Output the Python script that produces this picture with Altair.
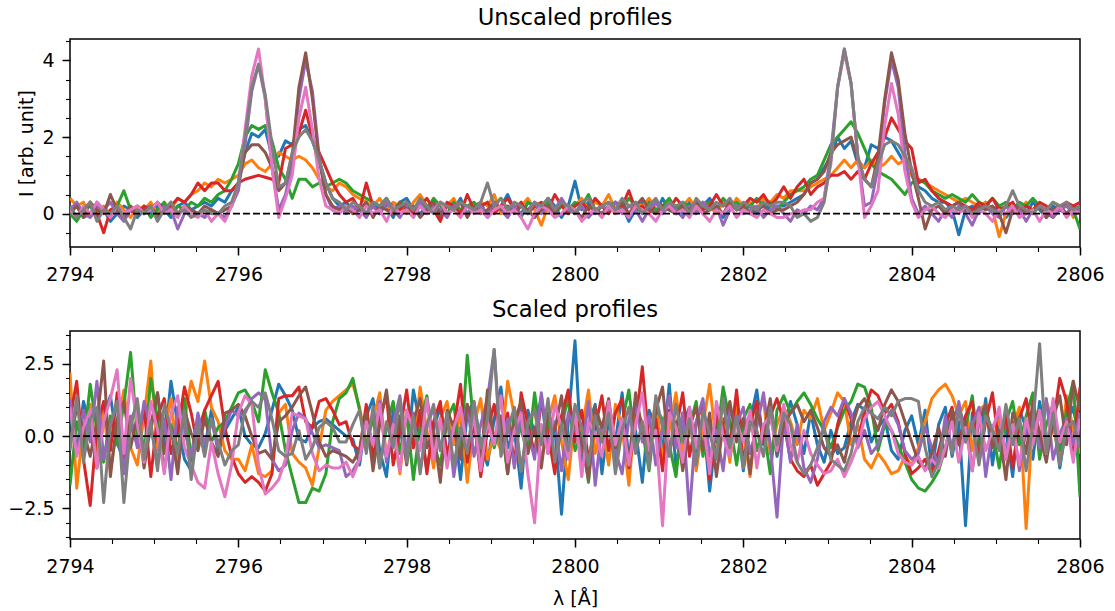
import altair as alt
import pandas as pd

# wavelength grid (Angstrom), 0.08 A step
LAM = [round(2794 + 0.08 * i, 2) for i in range(151)]

COLORS = ["#1f77b4", "#ff7f0e", "#2ca02c", "#d62728",
          "#9467bd", "#8c564b", "#e377c2", "#7f7f7f"]

# ---------------- unscaled profiles ----------------
u_blue = [0.1, 0.2, -0.1, 0.0, 0.3, 0.1, -0.2, 0.0, 0.2, 0.1,
          -0.1, 0.1, 0.0, 0.2, 0.1, -0.1, 0.2, 0.3, 0.1, 0.2,
          0.3, 0.2, 0.4, 0.3, 0.6, 0.8, 1.6, 2.1, 2.0, 2.2,
          1.5, 1.5, 1.9, 1.8, 2.2, 2.3, 1.9, 1.4, 0.8, 0.4,
          0.2, 0.3, 0.1, 0.2, 0.0, 0.3, 0.1, 0.2, -0.1, 0.3,
          0.4, 0.1, 0.0, 0.2, 0.3, -0.1, 0.2, 0.1, 0.4, 0.0,
          0.2, 0.3, -0.1, 0.1, 0.2, 0.5, 0.1, 0.0, 0.3, 0.2,
          0.1, 0.4, 0.2, -0.1, 0.2, 0.85, 0.1, 0.3, 0.0, 0.2,
          0.3, 0.1, 0.2, -0.2, 0.1, 0.3, 0.2, 0.0, 0.4, 0.1,
          0.2, 0.0, 0.3, 0.1, 0.2, 0.4, 0.1, -0.1, 0.2, 0.3,
          0.1, 0.2, 0.0, 0.3, 0.1, 0.2, 0.2, 0.3, 0.4, 0.5,
          0.8, 0.9, 1.2, 1.5, 2.0, 1.7, 1.9, 1.3, 1.2, 1.8,
          1.7, 2.0, 1.9, 1.6, 1.3, 1.0, 0.7, 0.6, 0.4, 0.3,
          0.3, 0.1, -0.55, 0.1, 0.2, 0.0, 0.3, 0.1, 0.2, -0.1,
          0.1, 0.2, 0.0, 0.3, 0.1, -0.1, 0.2, 0.1, 0.0, 0.2,
          0.1]
u_orange = [0.4, 0.2, 0.3, -0.1, 0.1, 0.2, 0.0, 0.3, 0.1, -0.1,
            0.2, 0.1, 0.3, 0.0, 0.2, 0.1, 0.4, 0.3, 0.5, 0.6,
            0.8, 0.7, 0.9, 0.8, 0.9, 1.0, 1.3, 1.4, 1.2, 1.1,
            1.3, 1.6, 1.5, 1.4, 1.5, 1.4, 1.2, 0.9, 0.7, 0.6,
            0.8, 0.7, 0.5, 0.4, 0.3, 0.2, 0.4, 0.1, 0.3, 0.2,
            0.0, 0.3, 0.5, 0.2, 0.1, 0.3, 0.2, 0.4, 0.0, 0.2,
            0.1, 0.3, 0.2, 0.5, 0.0, 0.1, 0.3, 0.2, 0.4, 0.1,
            -0.3, 0.2, 0.1, 0.3, 0.0, 0.2, 0.4, 0.1, 0.3, 0.2,
            0.5, 0.1, 0.2, 0.0, 0.3, 0.2, 0.4, 0.1, 0.2, 0.3,
            0.0, 0.2, 0.4, 0.1, 0.3, 0.2, 0.0, 0.3, 0.1, 0.4,
            0.2, 0.3, 0.1, 0.4, 0.3, 0.5, 0.4, 0.6, 0.6, 0.6,
            0.7, 0.8, 0.9, 1.0, 1.2, 1.4, 1.2, 1.4, 1.2, 1.4,
            1.2, 1.3, 1.5, 1.3, 1.4, 1.0, 0.9, 0.8, 0.7, 0.6,
            0.5, 0.4, 0.3, 0.4, 0.3, 0.2, 0.3, 0.1, -0.6, 0.0,
            0.2, 0.1, 0.3, 0.0, 0.2, 0.1, -0.1, 0.2, 0.3, -0.1,
            0.1]
u_green = [0.0, -0.2, 0.1, 0.2, -0.1, 0.1, 0.0, 0.2, 0.6, 0.1,
           0.0, 0.2, -0.1, 0.1, 0.3, 0.0, 0.2, 0.1, 0.3, 0.2,
           0.4, 0.3, 0.5, 0.6, 0.9, 1.3, 2.0, 2.3, 2.2, 2.3,
           1.9, 1.2, 0.9, 0.4, 0.9, 0.9, 0.7, 0.8, 0.7, 0.8,
           0.9, 0.8, 0.6, 0.5, 0.4, 0.3, 0.2, 0.4, 0.1, 0.3,
           0.2, 0.0, 0.3, 0.1, 0.4, 0.2, 0.0, 0.3, 0.1, 0.2,
           0.3, 0.1, 0.0, 0.2, 0.4, 0.1, 0.2, -0.1, 0.3, 0.2,
           0.1, 0.3, 0.0, 0.2, 0.1, 0.3, 0.2, 0.5, 0.1, 0.0,
           0.2, 0.3, 0.1, 0.4, 0.2, 0.0, 0.3, 0.1, 0.2, 0.4,
           0.1, 0.3, 0.2, 0.0, 0.2, 0.3, 0.1, 0.4, 0.2, 0.3,
           0.1, 0.2, 0.4, 0.2, 0.3, 0.1, 0.3, 0.5, 0.6, 0.7,
           0.9, 1.0, 1.4, 1.8, 2.0, 2.2, 2.4, 2.1, 1.7, 1.3,
           1.1, 1.0, 0.9, 0.7, 0.5, 0.8, 0.9, 0.8, 0.6, 0.5,
           0.4, 0.5, 0.4, 0.3, 0.5, 0.3, 0.2, 0.4, 0.2, 0.3,
           0.1, 0.3, 0.2, 0.4, 0.2, 0.1, 0.3, 0.2, 0.0, 0.1,
           -0.4]
u_red = [0.2, -0.1, 0.1, 0.3, 0.0, -0.5, 0.1, 0.2, -0.1, 0.1,
         0.0, 0.2, 0.1, 0.3, 0.1, 0.2, 0.4, 0.3, 0.5, 0.8,
         0.6, 0.8, 0.8, 0.6, 0.6, 0.8, 0.9, 0.95, 1.0, 0.95,
         0.9, 0.8, 1.7, 1.8, 2.1, 2.7, 2.0, 1.6, 1.2, 0.8,
         0.5, 0.3, 0.4, 0.1, 0.8, 0.2, 0.0, 0.3, 0.2, 0.1,
         0.3, 0.0, 0.2, 0.4, 0.1, -0.2, 0.3, 0.2, 0.0, 0.5,
         0.1, 0.2, 0.3, 0.0, 0.2, 0.4, 0.1, 0.3, 0.0, 0.2,
         0.3, 0.1, 0.5, 0.2, 0.0, 0.2, 0.3, 0.1, 0.4, 0.2,
         0.0, 0.3, 0.2, 0.6, 0.1, 0.2, 0.0, 0.3, 0.2, 0.1,
         0.4, 0.2, 0.0, 0.3, 0.1, 0.2, 0.5, 0.2, 0.3, 0.1,
         0.2, 0.4, 0.3, 0.5, 0.2, 0.4, 0.7, 0.4, 0.7, 0.9,
         0.5, 0.7, 0.8, 1.0, 1.0, 1.1, 0.9, 1.1, 0.9, 1.3,
         1.6, 2.0, 2.5, 2.2, 1.9, 1.7, 0.8, 0.9, 0.6, 0.4,
         0.3, 0.2, 0.3, 0.2, 0.1, 0.3, 0.2, 0.4, 0.1, 0.2,
         0.3, 0.0, 0.2, 0.1, 0.3, 0.2, 0.0, 0.1, 0.3, 0.2,
         0.3]
u_purple = [0.1, 0.3, 0.0, -0.1, 0.2, 0.1, 0.3, 0.0, -0.2, 0.1,
            0.2, 0.0, 0.1, -0.1, 0.2, 0.1, -0.4, 0.0, 0.1, 0.0,
            -0.1, 0.1, 0.0, -0.1, 0.2, 0.6, 1.8, 3.2, 3.9, 3.0,
            1.2, 0.1, 0.5, 1.3, 3.0, 4.0, 3.2, 1.5, 0.5, 0.1,
            0.2, 0.0, 0.2, 0.1, -0.1, 0.2, 0.0, 0.3, 0.1, -0.1,
            0.2, 0.1, 0.3, 0.0, 0.2, 0.1, -0.1, 0.2, 0.3, 0.0,
            0.1, 0.2, 0.0, 0.3, 0.1, -0.1, 0.2, 0.0, 0.1, 0.3,
            0.0, 0.2, 0.1, 0.4, 0.1, 0.0, 0.2, -0.1, 0.1, 0.2,
            0.1, 0.3, 0.0, 0.2, 0.1, -0.2, 0.1, 0.3, 0.0, 0.2,
            0.1, -0.1, 0.2, 0.0, 0.3, 0.1, 0.2, -0.3, 0.1, 0.2,
            0.0, 0.1, 0.2, -0.1, 0.1, 0.2, 0.0, -0.2, 0.1, 0.0,
            0.2, 0.1, 0.4, 1.6, 3.3, 4.3, 3.4, 1.5, 0.2, 0.3,
            1.2, 2.9, 4.0, 3.3, 1.6, 0.4, 0.0, 0.2, 0.0, -0.2,
            0.1, -0.1, 0.2, 0.0, -0.3, 0.1, 0.2, 0.0, -0.1, 0.2,
            0.0, 0.1, -0.2, 0.1, 0.2, 0.0, -0.1, 0.1, 0.2, 0.0,
            0.1]
u_brown = [0.0, 0.2, -0.1, 0.3, 0.1, 0.0, 0.5, 0.1, -0.1, 0.2,
           0.0, 0.1, 0.2, -0.1, 0.1, 0.3, 0.0, 0.2, 0.1, 0.0,
           0.2, 0.1, 0.0, 0.1, 0.2, 0.8, 1.6, 1.8, 1.8, 1.6,
           1.2, 0.6, 0.8, 1.5, 3.3, 4.2, 3.0, 1.4, 0.5, 0.2,
           0.1, 0.2, 0.0, 0.1, 0.3, -0.1, 0.2, 0.1, 0.0, 0.3,
           0.1, 0.2, -0.1, 0.1, 0.3, 0.0, 0.2, 0.1, 0.3, -0.1,
           0.2, 0.0, 0.1, 0.3, 0.1, 0.2, 0.0, 0.2, 0.1, -0.1,
           0.1, 0.2, 0.0, 0.3, 0.2, 0.1, -0.1, 0.2, 0.1, 0.0,
           0.2, 0.1, 0.3, 0.0, 0.2, 0.4, 0.1, 0.0, 0.2, 0.1,
           0.0, 0.2, 0.1, 0.3, 0.0, 0.1, 0.2, 0.0, 0.3, 0.1,
           0.2, 0.0, 0.1, 0.2, 0.0, 0.1, 0.1, 0.2, 0.3, 0.5,
           0.8, 0.9, 1.1, 1.6, 1.8, 1.9, 2.0, 1.4, 0.9, 0.7,
           1.5, 3.0, 4.2, 3.5, 2.1, 1.1, 0.4, -0.4, 0.1, 0.2,
           0.0, 0.2, 0.3, 0.1, 0.0, 0.2, 0.1, 0.2, 0.0, -0.5,
           0.1, 0.2, 0.0, 0.1, 0.2, -0.1, 0.1, 0.2, 0.0, 0.1,
           0.2]
u_pink = [0.1, -0.1, 0.2, 0.0, 0.3, 0.1, -0.1, 0.2, 0.0, 0.1,
          0.2, 0.0, 0.1, 0.3, 0.0, 0.1, -0.1, 0.2, 0.0, -0.1,
          0.1, -0.2, 0.0, -0.2, 0.2, 0.8, 2.2, 3.6, 4.3, 3.0,
          1.2, -0.1, 0.4, 1.0, 2.5, 3.3, 2.2, 0.9, 0.2, 0.1,
          0.0, 0.2, 0.1, -0.1, 0.2, 0.0, 0.1, -0.2, 0.2, 0.0,
          0.1, -0.1, 0.2, 0.0, 0.1, 0.3, 0.0, 0.1, -0.1, 0.2,
          0.0, 0.1, -0.1, 0.1, 0.2, 0.0, 0.1, -0.1, -0.4, 0.0,
          0.2, 0.1, -0.1, 0.0, 0.2, 0.1, -0.2, 0.0, 0.1, -0.1,
          0.2, 0.0, 0.1, -0.1, 0.2, 0.1, 0.0, -0.2, 0.1, 0.2,
          0.0, 0.1, -0.1, 0.2, 0.0, -0.2, 0.1, 0.0, 0.2, -0.1,
          0.1, 0.0, -0.1, 0.1, 0.0, -0.1, -0.1, 0.0, 0.0, 0.1,
          0.1, 0.3, 0.4, 1.3, 3.3, 4.2, 3.4, 1.5, -0.1, 0.2,
          0.6, 2.3, 3.4, 2.6, 1.1, 0.3, -0.1, 0.1, 0.2, 0.0,
          -0.1, 0.1, 0.0, 0.2, -0.1, 0.1, 0.0, -0.2, 0.1, 0.0,
          0.2, -0.1, 0.0, 0.1, -0.2, 0.1, 0.0, 0.2, -0.1, 0.1,
          0.0]
u_gray = [0.2, -0.1, 0.1, 0.3, -0.2, 0.1, 0.0, 0.2, -0.1, -0.4,
          0.1, 0.0, 0.2, -0.2, 0.1, 0.3, 0.0, 0.1, -0.1, 0.0,
          0.1, 0.0, 0.0, 0.2, 0.3, 0.8, 2.0, 3.3, 3.9, 3.1,
          1.8, 0.7, 0.8, 1.6, 2.0, 2.2, 1.9, 1.4, 0.8, 0.4,
          0.3, 0.1, 0.3, 0.2, 0.0, 0.3, 0.2, 0.4, 0.1, 0.2,
          0.3, 0.1, 0.4, 0.2, 0.0, 0.3, 0.2, 0.1, 0.3, 0.2,
          0.1, 0.3, 0.8, 0.2, 0.4, 0.1, 0.3, 0.2, 0.0, 0.3,
          0.2, 0.4, 0.1, 0.3, 0.2, 0.0, 0.3, 0.4, 0.1, 0.2,
          0.3, 0.1, 0.4, 0.2, 0.3, 0.0, 0.2, 0.4, 0.1, 0.3,
          0.2, 0.3, 0.0, 0.4, 0.2, 0.1, 0.3, 0.2, 0.4, 0.1,
          0.3, 0.2, 0.1, 0.3, 0.2, 0.3, 0.3, 0.2, -0.1, 0.0,
          -0.2, -0.1, 0.3, 1.4, 3.3, 4.3, 3.4, 1.5, 0.9, 0.7,
          1.3, 1.8, 1.9, 1.8, 1.5, 1.2, 0.6, 0.3, 0.2, 0.3,
          0.1, 0.2, 0.1, 0.2, 0.0, 0.1, 0.2, 0.1, 0.0, 0.2,
          0.6, 0.2, 0.1, 0.0, 0.2, 0.1, 0.3, 0.2, 0.3, 0.1,
          0.2]

# ---------------- scaled profiles ----------------
s_blue = [0.8, -0.5, 1.2, 0.3, -1.1, 0.6, 1.4, -0.2, -0.9, 0.5,
          1.1, -0.6, 0.2, 1.5, -0.3, 1.9, 0.4, -0.8, -1.2, 0.7,
          -0.4, 0.9, -0.6, 0.2, 0.6, 1.0, 0.0, -0.3, -0.4, 0.1,
          0.9, 1.8, 1.4, 0.9, -0.1, -0.2, 0.3, 0.5, 0.6, 0.4,
          0.2, 0.0, -0.1, -1.0, 0.7, 1.3, -0.5, -1.4, 0.9, 0.2,
          -0.8, 1.6, 0.4, -1.2, 0.3, 1.0, -0.7, 0.5, -1.5, 0.8,
          1.2, -0.3, -1.0, 0.6, 1.7, -0.4, 0.2, -1.8, 0.9, 0.1,
          1.4, -0.6, 0.3, -2.7, 0.5, 3.3, -0.9, 0.4, 1.1, -1.3,
          0.6, -0.2, 1.5, -0.8, 0.2, -1.6, 0.9, 0.3, -0.5, 1.8,
          -1.1, 0.4, 1.0, -0.6, 0.7, -1.9, 0.2, 1.3, -0.4, 0.8,
          -1.2, 0.5, 1.6, -0.3, 0.9, -0.7, 0.3, 1.2, 0.4, -0.6,
          0.8, -0.3, -0.9, 0.2, -0.6, -0.4, 0.5, 1.1, 0.9, -0.2,
          0.3, 0.6, -0.5, -0.8, 0.2, 0.7, -0.3, 0.9, -1.2, 0.4,
          1.0, -0.7, 0.5, -3.1, 0.8, -0.4, 1.3, -1.0, 0.6, 0.2,
          -1.4, 0.9, 0.3, -0.8, 1.2, -0.2, 0.6, -1.1, 0.4, 1.0,
          -0.3]
s_orange = [2.2, -1.8, 0.4, 1.1, -0.6, 0.9, -1.2, 0.3, 1.6, -0.4,
            -1.0, 0.7, 2.6, -0.5, 0.2, 1.3, -0.9, 0.6, 1.9, 1.2,
            2.6, 1.0, 0.5, -0.5, -0.8, -0.8, -1.2, -0.3, -1.3, -1.4,
            -1.2, 0.8, 1.1, -0.6, -0.9, -1.1, -1.7, -0.4, 0.9, 1.2,
            1.4, 1.6, 1.8, 1.0, -0.2, 0.6, 1.5, -0.7, 0.3, -1.3,
            0.9, -0.4, 1.7, 0.2, -1.1, 0.6, 1.2, -0.3, 0.8, -1.6,
            0.4, 1.3, -0.8, 0.1, -0.5, 1.9, 0.7, -1.2, 0.3, 1.0,
            -0.9, 0.5, 1.4, -0.2, -1.5, 0.8, 0.2, 1.6, -0.6, 0.4,
            -1.0, 1.1, 0.3, -1.7, 0.9, 0.5, -0.4, 1.3, -0.8, 0.2,
            1.5, -0.5, 0.7, -1.2, 0.4, 1.8, -0.3, 0.6, -0.9, 1.1,
            0.2, -1.4, 0.8, 1.2, -0.6, 0.4, 1.0, 0.5, -0.3, 0.9,
            0.6, 1.3, 0.2, 0.8, 1.5, 1.2, -0.3, 0.4, -0.8, -1.1,
            -0.6, -0.9, -1.3, -1.2, -0.7, -1.0, -0.4, 0.5, 1.3, 1.6,
            1.8, 1.4, 0.7, 1.2, -0.5, 0.9, 1.1, -0.2, 0.6, -0.8,
            0.3, 1.0, -3.2, 0.7, -0.4, 1.2, 0.5, -0.9, 1.4, 0.2,
            -0.6]
s_green = [-1.7, 0.5, -0.4, 1.8, 0.2, -0.9, 0.7, -0.3, 1.1, 2.9,
           0.0, -0.7, 2.0, 0.6, -1.2, 0.4, -0.5, 1.3, -0.8, 0.2,
           0.9, -0.2, 0.3, 0.5, 1.0, 1.5, 1.6, 1.2, 0.5, 2.3,
           1.5, 0.8, -0.5, -1.4, -2.3, -2.3, -1.8, -1.9, -1.3, 0.5,
           1.3, 1.5, 2.0, 0.9, -0.4, 0.7, -1.1, 0.3, 1.2, -0.6,
           0.8, -1.5, 0.4, 1.4, -0.3, -1.0, 0.6, 1.1, -0.7, 2.8,
           0.3, -0.8, 1.2, -0.4, 0.5, -1.3, 0.9, 0.2, -0.6, 1.5,
           -0.2, 0.7, -1.1, 0.4, 1.3, -0.5, 0.1, -1.6, 0.8, 0.3,
           1.0, -0.9, 0.5, 1.6, -0.4, 0.2, -1.2, 0.9, 0.6, -0.3,
           -1.4, 0.8, 0.3, 1.2, -0.7, 0.4, -0.2, 1.7, 0.5, -1.0,
           0.6, 1.1, -0.5, 0.3, -1.3, 0.9, 1.4, 0.8, 1.2, 1.5,
           1.1, 0.6, 0.2, -0.4, 0.3, 0.9, 1.2, 1.8, 1.7, 1.0,
           -0.5, 0.4, 0.2, -0.3, -0.9, -1.5, -1.8, -1.9, -1.6, -1.2,
           -0.4, 0.6, 1.0, 0.3, 1.4, -0.6, 0.8, 0.2, -1.1, 0.5,
           1.2, -0.3, 0.7, 1.5, -0.8, 0.4, 1.1, -0.5, 0.9, 1.9,
           -2.1]
s_red = [0.6, 1.9, -0.8, -2.4, 0.3, 1.2, -0.5, 1.5, -1.1, 0.4,
         -0.3, 1.0, -1.4, 0.7, 1.3, -0.6, 0.2, 1.7, 0.8, -0.4,
         0.9, 1.4, 1.9, 0.3, -0.7, -1.3, -1.6, -1.4, -1.6, -1.9,
         -1.3, 1.3, 1.4, 1.4, 1.7, 0.5, 0.3, 1.2, 1.3, 0.9,
         0.4, 0.5, -0.3, -0.5, 1.1, -0.8, 0.6, 1.4, -1.0, 0.2,
         1.6, -0.4, 0.9, -1.3, 0.5, 1.2, -0.7, 0.3, 1.8, -0.9,
         0.6, -1.4, 0.2, 1.1, -0.3, 0.8, -1.0, 1.5, 0.4, -0.6,
         1.2, 0.1, -1.3, 0.7, 1.6, -0.2, 0.9, -0.8, 0.3, 1.4,
         -0.5, 0.8, 1.3, -1.1, 0.4, 2.4, -0.3, 0.6, -1.2, 0.9,
         0.2, 1.5, -0.7, 0.5, 1.1, -1.5, 0.8, 0.3, -0.4, 1.6,
         -0.9, 0.4, 1.2, -0.2, 0.7, 1.3, 0.5, -0.8, -1.2, -1.4,
         -1.0, -1.7, -1.3, -0.9, 0.4, 1.3, 0.6, -0.2, 0.9, 1.6,
         1.4, 0.8, 1.1, 0.5, -0.6, -1.3, -1.1, -0.8, -1.3, -0.5,
         0.4, 1.0, -0.3, 0.7, 1.2, -0.9, 0.5, 1.5, -0.4, 0.8,
         -1.1, 0.6, 1.3, -0.2, 0.9, -0.7, 0.4, 2.0, 1.2, -0.5,
         1.7]
s_purple = [1.3, -0.6, 0.9, -0.2, 1.9, -0.8, 0.4, 1.1, -1.3, 0.7,
            -0.4, 1.2, 0.3, -0.9, 0.6, -1.5, 1.0, 0.2, -0.7, 0.8,
            -0.3, 0.5, -0.4, 0.3, 0.9, 0.7, 0.8, 1.3, 1.5, 1.3,
            -0.8, -1.2, -1.0, 0.2, 0.8, 0.6, 0.1, -0.4, -0.3, -0.4,
            -0.5, -1.4, -1.2, -0.8, 0.6, -0.3, 1.2, -0.9, 0.4, 1.4,
            -0.6, 0.8, -1.2, 0.3, 1.0, -0.5, 0.7, -1.4, 0.2, 1.1,
            -0.7, 0.4, 1.3, 3.0, -0.4, 0.6, -1.1, 0.9, 0.2, -0.8,
            1.5, -0.3, 0.5, -1.2, 0.8, 0.3, -0.6, 1.2, -1.7, 0.4,
            0.9, -0.5, -1.3, 0.6, 1.1, -0.2, 0.7, -1.0, 0.3, 1.4,
            -0.4, 0.8, -2.7, 0.5, 1.3, -0.7, 0.2, -1.2, 0.9, 0.4,
            1.0, -0.6, 0.3, 1.5, -0.3, -2.8, 0.6, -0.9, 0.4, -1.1,
            -1.6, -0.8, 0.5, 1.0, 0.7, 1.3, 0.8, -0.4, 0.2, -0.6,
            -0.3, 0.5, 0.9, 0.4, -0.5, -0.8, -0.6, 0.3, -0.4, -1.0,
            0.7, -0.5, 1.2, -0.2, 0.4, 1.0, -1.4, 0.3, 0.8, -0.6,
            0.5, -1.2, 0.2, 0.9, -0.4, 1.3, -0.8, 0.1, 0.6, -0.3,
            0.8]
s_brown = [-0.3, 1.0, 0.2, -0.7, 0.5, 2.6, -1.4, 0.6, 1.2, -0.4,
           0.7, -1.1, 0.4, 1.5, -0.6, 0.3, -1.3, 0.9, 0.1, -0.5,
           0.6, -0.2, -0.7, 0.8, 0.9, 1.1, 0.7, 0.0, -0.6, -0.5,
           -0.8, 0.5, 0.7, 1.0, 1.4, 1.7, 0.8, -0.2, -0.7, -0.5,
           -0.6, -0.7, -0.9, -0.5, 0.8, -1.2, 0.4, 1.6, -0.3, 0.7,
           -1.0, 0.5, 1.3, -0.4, 0.2, -1.6, 0.9, 0.3, -0.8, 1.1,
           0.4, -0.9, 1.6, -0.2, 0.7, -1.3, 0.5, 1.2, -0.6, 0.3,
           -1.1, 0.8, 0.2, 1.4, -0.7, 0.6, -0.2, -1.5, 1.0, 0.3,
           1.3, -0.4, 0.6, -1.0, 1.5, 0.2, -0.8, 0.9, 1.7, -0.6,
           0.5, -1.2, 0.3, 1.0, -0.5, 0.8, -1.4, 0.4, 1.2, -0.2,
           0.6, -1.3, 0.9, 0.1, 1.3, -0.6, 0.4, 0.8, 1.1, 0.5,
           0.9, 0.3, -0.4, -0.7, -0.3, -0.9, 0.2, 1.0, 1.3, 0.8,
           0.2, 1.1, 1.6, 1.2, 0.5, -0.2, -0.9, -1.1, -0.6, 0.3,
           -0.7, 0.9, -0.3, 0.5, -1.2, 0.6, 1.1, -0.4, 0.2, -1.5,
           0.8, 0.3, -0.6, 1.2, 0.1, -0.9, 0.6, 1.4, -0.3, 1.9,
           0.9]
s_pink = [1.0, -0.7, 0.3, 0.9, -1.1, 0.5, 1.3, 2.3, -0.6, 2.0,
          0.4, -0.9, 1.2, 0.2, -1.3, 0.8, 1.4, -0.4, -1.0, -1.6,
          -1.8, -0.2, -1.3, -2.1, -1.0, 0.8, 1.4, 1.1, -1.0, -2.0,
          -1.8, -1.5, -0.8, 0.8, 0.7, 0.6, -0.6, -1.2, -1.0, -1.1,
          -1.1, -0.9, -1.4, -0.8, 0.5, -0.3, 1.1, -0.7, 0.4, -1.2,
          0.9, 0.2, -0.5, 1.3, -0.8, 0.6, -1.1, 0.3, 1.0, -0.4,
          0.7, -1.2, 0.5, -0.3, 1.4, -0.9, 0.2, 0.8, -1.3, -3.0,
          0.4, -0.6, 1.1, 0.3, -0.8, 0.9, -1.4, 0.5, 0.1, -0.7,
          1.2, -0.3, 0.6, -1.0, 0.4, 1.5, -0.5, 0.2, -3.1, 0.8,
          0.3, -0.9, 1.0, -0.4, 0.6, -1.3, 1.2, 0.0, -0.7, 0.5,
          -0.2, 0.9, -1.1, 0.4, 0.7, -0.5, 1.1, -0.3, -0.9, 0.2,
          -0.6, -1.0, -1.3, -1.2, -0.8, -1.4, -0.9, -0.3, 0.6, 1.0,
          1.2, 0.7, 0.2, -0.6, -0.9, -1.0, -0.7, -1.2, -0.8, -1.1,
          -0.4, 0.5, -0.9, 0.3, -1.2, 0.8, -0.5, 0.2, 1.0, -0.8,
          0.4, -1.0, 0.6, -0.3, 0.9, -0.6, 1.3, -0.2, 0.5, -0.9,
          0.6]
s_gray = [-0.5, 1.4, -0.9, 0.6, 1.0, -2.3, 0.4, 1.2, -2.3, 0.3,
          1.3, -0.8, 0.5, -1.2, 1.1, 0.2, -0.6, 0.9, -1.5, 0.4,
          -0.7, 0.6, -0.2, -1.0, -0.5, -0.3, 0.9, 1.2, 1.0, 1.5,
          0.6, -0.5, -0.7, -0.6, 0.2, -0.8, -0.4, 0.3, 0.5, 0.3,
          -0.2, -0.2, 0.4, 0.9, -0.6, 1.0, -1.1, 0.5, -0.4, 1.3,
          -0.9, 0.7, -1.3, 0.4, 1.1, -0.5, 0.8, -1.0, 0.3, -0.6,
          1.2, -0.4, 0.6, 3.0, -0.7, 0.2, 1.0, -1.2, 0.5, 0.9,
          -0.3, 1.3, -0.9, 0.4, -0.5, 1.1, 0.3, -1.0, 0.7, -0.2,
          0.8, -1.3, 0.2, 1.0, -0.6, 0.5, -1.1, 1.4, 0.3, -0.7,
          1.1, -0.2, 0.6, -1.0, 0.9, 0.1, -0.8, 1.3, -0.4, 0.7,
          -1.1, 0.5, 0.2, -0.7, 1.0, -0.3, 0.8, 0.4, -0.9, -1.3,
          -1.0, -0.4, 0.3, -0.8, -1.0, -1.2, -0.6, 0.5, 1.0, 0.8,
          0.6, 1.0, 0.7, 1.2, 1.3, 1.3, 1.2, -0.4, -1.4, -0.9,
          0.3, -0.6, 0.9, -0.2, 0.5, -1.0, 0.7, 0.2, -0.5, 1.1,
          -0.3, 0.6, -1.2, 0.4, 3.2, -0.6, 0.8, -1.0, 0.3, 0.5,
          -0.4]

UNSCALED = [u_blue, u_orange, u_green, u_red, u_purple, u_brown, u_pink, u_gray]
SCALED = [s_blue, s_orange, s_green, s_red, s_purple, s_brown, s_pink, s_gray]

X_MAJOR = [2794, 2796, 2798, 2800, 2802, 2804, 2806]
X_MINOR = [2794 + 0.5 * k for k in range(25)]

FONT = "DejaVu Sans"
W, H = 1010, 208


def panel(series, ydom, ymajor, yminor, yfmt, ytitle, title, xtitle):
    xs = alt.Scale(domain=[2794, 2806], nice=False, zero=False)
    ys = alt.Scale(domain=ydom, nice=False, zero=False)

    xkw = dict(values=X_MAJOR, format="d", orient="bottom", grid=False,
               domain=False, tickSize=8, tickWidth=1.5, tickColor="black",
               labelFont=FONT, labelFontSize=19, labelColor="black",
               labelPadding=10, labelFlush=False, labelOverlap=False)
    if xtitle:
        xkw.update(title=xtitle, titleFont=FONT, titleFontSize=19,
                   titleFontWeight="normal", titleColor="black",
                   titleBaseline="alphabetic", titleY=65, titleAnchor="middle")
    else:
        xkw.update(title=None)
    xaxis = alt.Axis(**xkw)

    ykw = dict(values=ymajor, format=yfmt, orient="left", grid=False,
               domain=False, tickSize=8, tickWidth=1.5, tickColor="black",
               labelFont=FONT, labelFontSize=19, labelColor="black",
               labelPadding=8, labelFlush=False, labelOverlap=False)
    if ytitle:
        ykw.update(title=ytitle, titleFont=FONT, titleFontSize=19,
                   titleFontWeight="normal", titleColor="black",
                   titleAngle=270, titleX=-44, titleY=H / 2,
                   titleAlign="center", titleBaseline="middle")
    else:
        ykw.update(title=None)
    yaxis = alt.Axis(**ykw)

    lines = []
    for vals, col in zip(series, COLORS):
        df = pd.DataFrame({"lam": LAM[:len(vals)], "val": vals})
        lines.append(
            alt.Chart(df).mark_line(color=col, strokeWidth=3.0,
                                    strokeJoin="round", clip=True)
            .encode(x=alt.X("lam:Q", scale=xs, axis=xaxis),
                    y=alt.Y("val:Q", scale=ys, axis=yaxis))
        )
    zero = (
        alt.Chart(pd.DataFrame({"val": [0.0]}))
        .mark_rule(color="black", strokeDash=[7, 3], strokeWidth=1.9)
        .encode(y=alt.Y("val:Q", scale=ys, axis=yaxis))
    )
    main = alt.layer(*lines, zero)

    minor_x_axis = alt.Axis(values=X_MINOR, orient="bottom", labels=False,
                            domain=False, grid=False, tickSize=4.5,
                            tickWidth=1.1, tickColor="black", title=None)
    minor_y_axis = alt.Axis(values=yminor, orient="left", labels=False,
                            domain=False, grid=False, tickSize=4.5,
                            tickWidth=1.1, tickColor="black", title=None)
    minor = (
        alt.Chart(pd.DataFrame({"lam": [2800.0], "val": [0.0]}))
        .mark_point(opacity=0)
        .encode(x=alt.X("lam:Q", scale=xs, axis=minor_x_axis),
                y=alt.Y("val:Q", scale=ys, axis=minor_y_axis))
    )

    return (
        alt.layer(minor, main)
        .resolve_axis(x="independent", y="independent")
        .properties(
            width=W, height=H,
            title=alt.TitleParams(text=title, font=FONT, fontSize=22.7,
                                  fontWeight="normal", color="black",
                                  anchor="middle", frame="group",
                                  baseline="alphabetic", offset=-9),
        )
    )


top = panel(UNSCALED, [-0.87, 4.56], [0, 2, 4],
            [-0.5 + 0.5 * k for k in range(11)], "d",
            "I [arb. unit]", "Unscaled profiles", None)
bottom = panel(SCALED, [-3.56, 3.64], [-2.5, 0, 2.5],
               [-3.5 + 0.5 * k for k in range(15)], ".1f",
               None, "Scaled profiles", "λ [Å]")

chart = (
    alt.vconcat(top, bottom, spacing=84, bounds="flush")
    .properties(
        padding={"left": 7, "top": 6, "right": 10, "bottom": 4},
        background="white",
    )
    .configure_view(stroke="black", strokeWidth=1.5)
)

chart.save("out.html", embed_options={"renderer": "svg", "actions": False})
